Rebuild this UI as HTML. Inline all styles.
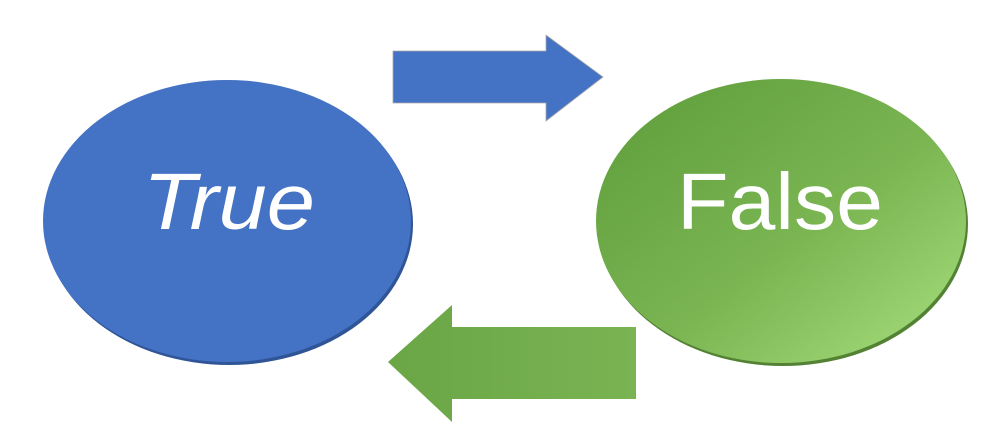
<!DOCTYPE html>
<html><head><style>
html,body{margin:0;padding:0;background:#fff;width:1008px;height:429px;overflow:hidden}
</style></head><body>
<svg width="1008" height="429" viewBox="0 0 1008 429" xmlns="http://www.w3.org/2000/svg">
<defs>
<linearGradient id="g" x1="0" y1="0" x2="1" y2="1">
<stop offset="0" stop-color="#5d9c3a"/>
<stop offset="0.55" stop-color="#7ab552"/>
<stop offset="1" stop-color="#a8e07e"/>
</linearGradient>
<linearGradient id="ga" x1="0" y1="0" x2="1" y2="0">
<stop offset="0" stop-color="#6aa646"/>
<stop offset="1" stop-color="#7ab352"/>
</linearGradient>
</defs>
<ellipse cx="229" cy="224" rx="184" ry="141" fill="#2f5597"/>
<ellipse cx="227" cy="221" rx="184" ry="141" fill="#4472c4"/>
<ellipse cx="783" cy="224" rx="185" ry="142" fill="#548235"/>
<ellipse cx="781" cy="221" rx="185" ry="142" fill="url(#g)"/>
<polygon points="393,51 546,51 546,35 603,77 546,121 546,103 393,103" fill="#4472c4" stroke="#aaa" stroke-width="0.8"/>
<polygon points="636,327 452,327 452,305 388,362 452,422 452,399 636,399" fill="url(#ga)"/>
<text x="229" y="229" font-family="Liberation Sans, sans-serif" font-style="italic" font-size="80" fill="#fff" text-anchor="middle" textLength="172" lengthAdjust="spacingAndGlyphs">True</text>
<text x="780" y="229" font-family="Liberation Sans, sans-serif" font-size="80" fill="#fff" text-anchor="middle" textLength="206" lengthAdjust="spacingAndGlyphs">False</text>
</svg>
</body></html>
